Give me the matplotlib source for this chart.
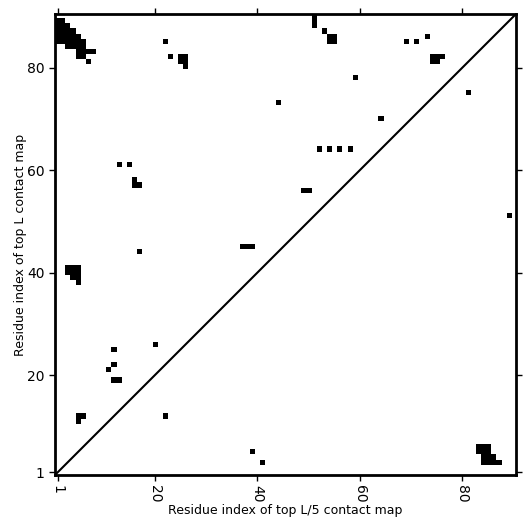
import numpy as np
import matplotlib
matplotlib.use("Agg")
import matplotlib.pyplot as plt

L = 90

# top L contacts (upper triangle), as (column, row) residue pairs
top_L = [
    (1, 89), (2, 89),
    (1, 88), (2, 88), (3, 88),
    (1, 87), (2, 87), (3, 87), (4, 87),
    (1, 86), (2, 86), (3, 86), (4, 86), (5, 86),
    (1, 85), (2, 85), (3, 85), (4, 85), (5, 85), (6, 85),
    (3, 84), (4, 84), (5, 84), (6, 84),
    (5, 83), (6, 83), (7, 83), (8, 83),
    (5, 82), (6, 82),
    (7, 81),
    (22, 85), (23, 82), (25, 82), (26, 82), (25, 81), (26, 81), (26, 80),
    (51, 88), (51, 89), (51, 90),
    (53, 87), (54, 86), (55, 86), (54, 85), (55, 85),
    (69, 85), (71, 85), (73, 86),
    (74, 82), (75, 82), (76, 82), (74, 81), (75, 81),
    (59, 78), (64, 70), (44, 73),
    (52, 64), (54, 64), (56, 64), (58, 64),
    (49, 56), (50, 56),
    (13, 61), (15, 61), (16, 58), (16, 57), (17, 57),
    (17, 44), (37, 45), (38, 45), (39, 45),
    (3, 41), (4, 41), (5, 41), (3, 40), (4, 40), (5, 40), (4, 39), (5, 39), (5, 38),
    (12, 25), (20, 26), (12, 22), (11, 21), (12, 19), (13, 19),
    (5, 12), (6, 12), (5, 11),
]

# top L/5 contacts (lower triangle)
top_L5 = [
    (83, 6), (84, 6), (85, 6),
    (83, 5), (84, 5), (85, 5),
    (84, 4), (85, 4), (86, 4),
    (84, 3), (85, 3), (86, 3), (87, 3),
    (39, 5), (41, 3), (22, 12), (81, 75), (89, 51),
]

ticks = [1, 20, 40, 60, 80]

cmap = np.zeros((L, L))
for i, j in top_L + top_L5:
    cmap[j - 1, i - 1] = 1

fig = plt.figure(figsize=(5.31, 5.31), dpi=100)
ax = fig.add_axes([0.1036, 0.1055, 0.8682, 0.8682])
ax.imshow(cmap, cmap="binary", origin="lower", interpolation="nearest",
          extent=(0.5, L + 0.5, 0.5, L + 0.5), aspect="auto")
ax.plot([0.5, L + 0.5], [0.5, L + 0.5], color="black", linewidth=1.5)

ax.set_xlim(0.5, L + 0.5)
ax.set_ylim(0.5, L + 0.5)
ax.set_xticks(ticks)
ax.set_yticks(ticks)
ax.set_xticklabels([str(t) for t in ticks], rotation=270)
ax.tick_params(direction="out", top=True, right=True, length=4, width=1, labelsize=10)
for s in ax.spines.values():
    s.set_linewidth(2)

ax.set_xlabel("Residue index of top L/5 contact map", fontsize=9, labelpad=1)
ax.set_ylabel("Residue index of top L contact map", fontsize=9, labelpad=0)

fig.savefig("out.png", dpi=100)
